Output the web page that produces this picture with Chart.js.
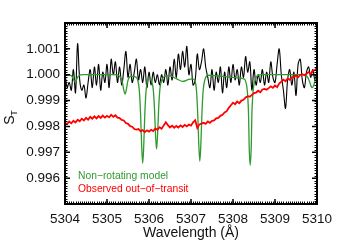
<!DOCTYPE html>
<html>
<head>
<meta charset="utf-8">
<script src="https://cdn.jsdelivr.net/npm/chart.js@4.4.0/dist/chart.umd.min.js"></script>
<style>
  html, body { margin: 0; padding: 0; background: #fff; }
  #wrap { width: 364px; height: 246px; }
</style>
</head>
<body>
<div id="wrap"><canvas id="c" width="364" height="246"></canvas></div>
<script>
// sampling grid of the observed spectra (0.05 A steps)
const obsWave = Array.from({ length: 121 }, (_, i) => +(5304 + i * 0.05).toFixed(2));

// black: observed in-transit
const inTransit = [
  1.0001, 0.9995, 0.9997, 0.9994, 1.0002, 0.9993, 1.0012, 0.9998, 0.9994, 0.9996,
  0.9991, 0.9997, 1.0002, 0.9995, 1.0003, 0.9996, 1.0004, 0.9994, 1.0001, 0.9997,
  1.0004, 0.9995, 1.0006, 1.0000, 1.0005, 0.9997, 1.0003, 0.9996, 1.0002, 1.0009,
  0.9999, 1.0004, 0.9997, 1.0001, 1.0006, 0.9998, 1.0002, 0.9997, 1.0003, 0.9995,
  1.0001, 0.9996, 1.0001, 0.9997, 1.0000, 0.9996, 1.0000, 0.9997, 1.0002, 0.9996,
  1.0003, 0.9998, 1.0006, 0.9999, 1.0008, 1.0002, 1.0009, 1.0003, 1.0011, 1.0000,
  1.0004, 0.9996, 0.9998, 1.0008, 1.0002, 1.0005, 1.0010, 1.0003, 0.9999, 0.9995,
  1.0002, 0.9994, 1.0001, 0.9997, 1.0003, 0.9993, 1.0001, 0.9995, 1.0003, 0.9997,
  1.0004, 0.9998, 1.0002, 0.9996, 1.0003, 0.9999, 1.0007, 1.0001, 1.0005, 0.9994,
  1.0002, 0.9996, 1.0000, 0.9997, 1.0002, 0.9996, 1.0001, 0.9997, 1.0005, 0.9999,
  0.9997, 1.0004, 1.0010, 1.0000, 0.9994, 0.9987, 0.9998, 1.0002, 0.9996, 1.0001,
  0.9992, 1.0004, 1.0006, 0.9998, 0.9995, 1.0001, 1.0003, 0.9999, 1.0002, 0.9998,
  1.0001
];

// red: observed out-of-transit
const outTransit = [
  0.99814, 0.99809, 0.99819, 0.99812, 0.99822, 0.99815, 0.99826, 0.99820, 0.99830, 0.99823,
  0.99833, 0.99826, 0.99837, 0.99830, 0.99839, 0.99831, 0.99840, 0.99833, 0.99842, 0.99834,
  0.99841, 0.99835, 0.99845, 0.99837, 0.99843, 0.99834, 0.99832, 0.99825, 0.99823, 0.99813,
  0.99810, 0.99801, 0.99799, 0.99790, 0.99788, 0.99790, 0.99781, 0.99786, 0.99778, 0.99785,
  0.99780, 0.99787, 0.99782, 0.99792, 0.99787, 0.99797, 0.99791, 0.99804, 0.99816, 0.99805,
  0.99796, 0.99803, 0.99795, 0.99802, 0.99796, 0.99804, 0.99798, 0.99806, 0.99800, 0.99807,
  0.99803, 0.99816, 0.99824, 0.99794, 0.99808, 0.99811, 0.99814, 0.99810, 0.99819, 0.99814,
  0.99822, 0.99823, 0.99831, 0.99833, 0.99841, 0.99845, 0.99854, 0.99859, 0.99872, 0.99882,
  0.99892, 0.99886, 0.99896, 0.99890, 0.99900, 0.99903, 0.99912, 0.99917, 0.99915, 0.99922,
  0.99929, 0.99931, 0.99938, 0.99932, 0.99943, 0.99945, 0.99942, 0.99948, 0.99955, 0.99949,
  0.99958, 0.99952, 0.99966, 0.99973, 0.99981, 0.99975, 0.99985, 0.99980, 0.99990, 0.99991,
  0.99997, 0.99990, 0.99999, 1.00002, 0.99998, 1.00004, 1.00010, 1.00003, 1.00015, 1.00018,
  1.00026
];

// green: non-rotating model
const modelWave = [
  5304.00, 5304.12, 5304.18, 5304.21, 5304.24, 5304.27, 5304.31, 5304.40,
  5305.20, 5305.30, 5305.36, 5305.40, 5305.43, 5305.46, 5305.50, 5305.57,
  5305.67, 5305.73, 5305.77, 5305.80, 5305.825, 5305.85, 5305.875, 5305.90, 5305.93, 5305.97,
  5306.02, 5306.06, 5306.10, 5306.13, 5306.155, 5306.18, 5306.205, 5306.23, 5306.26, 5306.30,
  5306.36, 5306.50, 5306.65, 5306.80, 5306.95, 5307.03,
  5307.09, 5307.13, 5307.16, 5307.185, 5307.21, 5307.235, 5307.26, 5307.29, 5307.33, 5307.40,
  5307.60, 5307.85, 5308.10, 5308.25,
  5308.30, 5308.34, 5308.37, 5308.385, 5308.41, 5308.435, 5308.45, 5308.48, 5308.53, 5308.60,
  5308.70, 5309.70, 5309.78, 5309.83, 5309.86, 5309.89, 5309.92, 5309.96, 5310.00
];
const modelFlux = [
  1.00000, 0.99998, 0.99990, 0.99979, 0.99972, 0.99980, 0.99992, 1.00000,
  1.00000, 0.99994, 0.99975, 0.99940, 0.99925, 0.99942, 0.99978, 0.99994,
  0.99992, 0.99980, 0.99938, 0.99846, 0.99726, 0.99657, 0.99726, 0.99846, 0.99938, 0.99978,
  0.99988, 0.99975, 0.99945, 0.99870, 0.99770, 0.99712, 0.99770, 0.99870, 0.99945, 0.99978,
  0.99992, 0.99996, 0.99985, 0.99974, 0.99982, 0.99984,
  0.99978, 0.99940, 0.99849, 0.99732, 0.99665, 0.99732, 0.99849, 0.99940, 0.99980, 0.99998,
  0.99996, 0.99992, 0.99988, 0.99984,
  0.99975, 0.99938, 0.99848, 0.99724, 0.99650, 0.99724, 0.99848, 0.99938, 0.99980, 0.99998,
  1.00000, 1.00000, 0.99990, 0.99970, 0.99955, 0.99950, 0.99958, 0.99980, 0.99995
];

const xMajor = [5304, 5305, 5306, 5307, 5308, 5309, 5310];
const yMajor = [0.995, 0.996, 0.997, 0.998, 0.999, 1.000, 1.001, 1.002];

const GREEN = '#2f9a2f';
const RED = '#ff0000';
const FONT = '"Liberation Sans", Arial, Helvetica, sans-serif';

const pts = (xs, ys) => xs.map((x, i) => ({ x: x, y: ys[i] }));

// frame with inward major/minor ticks on all four sides, plus labels
const framePlugin = {
  id: 'frame',
  afterDatasetsDraw(chart) {
    const ctx = chart.ctx;
    const a = chart.chartArea;
    const xs = chart.scales.x, ys = chart.scales.y;
    ctx.save();
    ctx.strokeStyle = '#000';
    ctx.lineWidth = 1;
    ctx.beginPath();
    for (let v = 5304; v <= 5310.001; v += 0.05) {
      const px = Math.round(xs.getPixelForValue(v)) + 0.5;
      ctx.moveTo(px, a.bottom); ctx.lineTo(px, a.bottom - 2.5);
      ctx.moveTo(px, a.top); ctx.lineTo(px, a.top + 2.5);
    }
    for (let v = 0.995; v <= 1.00201; v += 0.0001) {
      const py = Math.round(ys.getPixelForValue(v)) + 0.5;
      ctx.moveTo(a.left, py); ctx.lineTo(a.left + 2.5, py);
      ctx.moveTo(a.right, py); ctx.lineTo(a.right - 2.5, py);
    }
    ctx.stroke();
    ctx.lineWidth = 1.5;
    ctx.beginPath();
    xMajor.forEach(v => {
      const px = xs.getPixelForValue(v);
      ctx.moveTo(px, a.bottom); ctx.lineTo(px, a.bottom - 5);
      ctx.moveTo(px, a.top); ctx.lineTo(px, a.top + 5);
    });
    yMajor.forEach(v => {
      const py = ys.getPixelForValue(v);
      ctx.moveTo(a.left, py); ctx.lineTo(a.left + 5, py);
      ctx.moveTo(a.right, py); ctx.lineTo(a.right - 5, py);
    });
    ctx.stroke();
    ctx.lineWidth = 2;
    ctx.strokeRect(a.left, a.top, a.right - a.left, a.bottom - a.top);

    // legend text
    ctx.font = '10.3px ' + FONT;
    ctx.textAlign = 'left';
    ctx.textBaseline = 'middle';
    ctx.fillStyle = GREEN;
    ctx.fillText('Non\u2212rotating model', 78, 176);
    ctx.fillStyle = RED;
    ctx.fillText('Observed out\u2212of\u2212transit', 78, 189);

    // axis titles
    ctx.fillStyle = '#111';
    ctx.font = '14px ' + FONT;
    ctx.textAlign = 'center';
    ctx.fillText('Wavelength (\u00C5)', 191, 233);
    ctx.translate(10, 120);
    ctx.rotate(-Math.PI / 2);
    ctx.textAlign = 'center';
    ctx.fillText('S', 0, 0);
    ctx.font = '9px ' + FONT;
    ctx.fillText('T', 7, 5);
    ctx.restore();
  }
};

new Chart(document.getElementById('c'), {
  type: 'line',
  data: {
    datasets: [
      {
        label: 'Observed out-of-transit',
        data: pts(obsWave, outTransit),
        borderColor: RED,
        borderWidth: 1.8,
        pointRadius: 0,
        tension: 0,
        order: 0
      },
      {
        label: 'Non-rotating model',
        data: pts(modelWave, modelFlux),
        borderColor: GREEN,
        borderWidth: 1.3,
        pointRadius: 0,
        cubicInterpolationMode: 'monotone',
        order: 1
      },
      {
        label: 'In-transit',
        data: pts(obsWave, inTransit),
        borderColor: '#000',
        borderWidth: 1.1,
        pointRadius: 0,
        tension: 0.35,
        order: 2
      }
    ]
  },
  options: {
    responsive: false,
    animation: false,
    devicePixelRatio: 1,
    layout: { padding: { top: 23, right: 47, left: 0, bottom: 0 } },
    plugins: { legend: { display: false }, tooltip: { enabled: false } },
    scales: {
      x: {
        type: 'linear',
        min: 5304,
        max: 5310,
        afterFit: s => { s.height = 42; },
        grid: { display: false, drawTicks: false },
        border: { display: false },
        ticks: {
          stepSize: 1,
          padding: 7,
          color: '#111',
          font: { family: FONT, size: 13.5 },
          maxRotation: 0,
          callback: v => String(v)
        }
      },
      y: {
        min: 0.995,
        max: 1.002,
        afterFit: s => { s.width = 65; },
        grid: { display: false, drawTicks: false },
        border: { display: false },
        ticks: {
          stepSize: 0.001,
          padding: 5,
          color: '#111',
          font: { family: FONT, size: 13.5 },
          callback: v => (v < 0.9955 || v > 1.0015) ? '' : v.toFixed(3)
        }
      }
    }
  },
  plugins: [framePlugin]
});
</script>
</body>
</html>
